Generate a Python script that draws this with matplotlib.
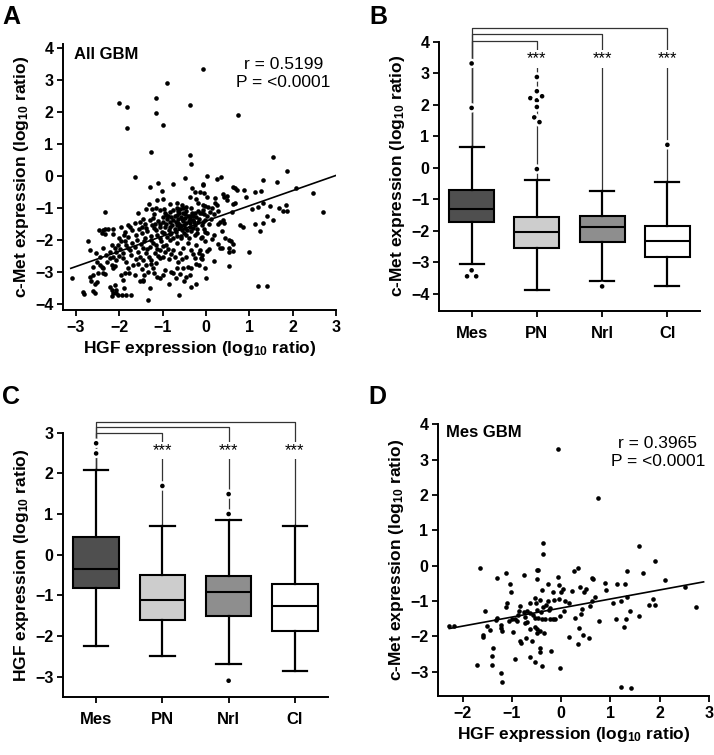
import numpy as np
import matplotlib
matplotlib.use('Agg')
import matplotlib.pyplot as plt
import matplotlib.patheffects as pe

plt.rcParams['font.family'] = ['Liberation Sans', 'DejaVu Sans']
plt.rcParams['font.weight'] = 'bold'
plt.rcParams['axes.labelweight'] = 'bold'
plt.rcParams['mathtext.fontset'] = 'custom'
plt.rcParams['mathtext.rm'] = 'Liberation Sans:bold'
plt.rcParams['mathtext.bf'] = 'Liberation Sans:bold'
plt.rcParams['mathtext.default'] = 'rm'

# ---- data: A (all GBM), HGF vs c-Met ----
all_pts = np.array([
    (-0.07, 3.32), (-0.91, 2.91), (-2.01, 2.28), (-1.83, 2.15), (-1.15, 2.43), (-1.15, 1.95), (-0.38, 2.22),
    (-1.83, 1.48), (-1.00, 1.60), (0.74, 1.91), (-1.26, 0.74), (-0.37, 0.65), (-0.35, 0.37),
    (-1.65, -0.03), (-1.30, -0.34), (-1.11, -0.21), (-1.01, -0.48), (-0.75, -0.25), (-0.49, -0.08), (-0.32, -0.37),
    (-0.26, -0.51), (-0.99, -0.73), (-1.12, -0.75), (-1.32, -0.89), (-1.38, -1.04), (-2.32, -1.12), (-1.57, -1.17),
    (-1.16, -1.01), (-1.07, -1.07), (-0.82, -0.88), (-0.66, -0.84), (-0.55, -0.91), (-0.45, -0.98), (-0.38, -0.65),
    (-0.24, -0.73), (-0.13, -0.49), (-0.08, -0.29), (-0.18, -0.86), (-0.13, -1.17), (-0.26, -1.17), (-1.53, -1.43),
    (-1.65, -1.48), (-1.45, -1.36), (-1.30, -1.38), (-1.22, -1.33), (-1.18, -1.50), (-0.99, -1.43), (-0.92, -1.22),
    (-0.84, -1.12), (-0.76, -1.07), (-0.68, -1.01), (-0.62, -1.17), (-0.53, -1.17), (-0.49, -1.33), (-0.38, -1.27),
    (-0.30, -1.38), (-0.26, -1.53), (-0.68, -1.53), (-0.61, -1.53), (-0.84, -1.59), (-1.07, -1.59), (-1.38, -1.64),
    (-2.26, -1.67), (-2.15, -1.67), (-1.76, -1.59), (-0.38, -1.59), (-0.18, -1.43),
    (-0.80, -1.30), (-0.72, -1.25), (-0.65, -1.35), (-0.58, -1.28), (-0.52, -1.42), (-0.45, -1.48), (-0.40, -1.40),
    (-0.70, -1.45), (-0.78, -1.55), (-0.62, -1.62), (-0.55, -1.70), (-0.48, -1.62), (-0.35, -1.72), (-0.90, -1.35),
    (-0.95, -1.60), (-0.86, -1.70), (-0.60, -1.05), (-0.50, -1.55), (-0.42, -1.25), (-0.33, -1.15), (-0.70, -1.75),
    (-1.02, -1.75), (-1.15, -1.70), (-1.25, -1.55), (-0.20, -1.65), (-0.15, -1.35), (-0.05, -1.20), (-0.25, -1.85),
    (-0.45, -1.85),
    (-0.95, -1.15), (-0.88, -1.25), (-0.82, -1.45), (-0.75, -1.38), (-0.68, -1.22), (-0.64, -1.48), (-0.57, -1.58),
    (-0.55, -1.35), (-0.48, -1.20), (-0.44, -1.70), (-0.38, -1.48), (-0.36, -1.35), (-0.30, -1.25), (-0.28, -1.45),
    (-0.72, -1.65), (-0.80, -1.78), (-0.92, -1.52), (-1.00, -1.28), (-1.05, -1.50), (-1.10, -1.40), (-0.58, -1.88),
    (-0.65, -1.10), (-0.52, -1.00), (-0.45, -1.10), (-0.35, -1.02), (-0.22, -1.30), (-0.18, -1.10), (-0.10, -1.55),
    (-0.05, -1.65), (0.08, -1.50), (0.12, -1.35), (0.18, -1.20), (0.10, -1.12), (-0.98, -1.05), (-1.20, -1.20),
    (-1.25, -1.05), (-1.40, -1.50), (-1.48, -1.60),
    (0.02, 0.00), (0.26, -0.11), (0.34, -0.05), (-0.08, -0.26), (-0.05, -0.53), (0.02, -0.65), (0.21, -0.68),
    (0.21, -0.84), (0.26, -0.91), (0.39, -0.57), (0.42, -0.65), (0.49, -0.63), (0.48, -0.75), (0.62, -0.34),
    (0.66, -0.37), (0.71, -0.44), (0.88, -0.44), (1.12, -0.49), (1.27, -0.46), (1.32, -0.13), (1.65, -0.18),
    (2.08, -0.39), (2.48, -0.55), (2.71, -1.12), (1.55, 0.60), (1.88, 0.16), (0.63, -0.88), (0.67, -0.86),
    (-0.08, -0.91), (-0.02, -0.93), (0.05, -0.98), (0.15, -1.01), (0.28, -1.09), (-0.06, -1.07), (-0.10, -1.17),
    (0.02, -1.25), (-0.02, -1.38), (-0.08, -1.43), (0.32, -1.43), (0.39, -1.38), (0.42, -1.48), (0.28, -1.50),
    (0.79, -1.53), (0.85, -1.61), (1.13, -1.50), (1.31, -1.46), (1.40, -1.25), (1.55, -1.38), (1.69, -1.01),
    (1.78, -1.09), (1.88, -1.09), (1.85, -0.91), (1.48, -0.94), (1.31, -0.86), (1.21, -0.98), (1.06, -1.04),
    (0.92, -0.65), (0.59, -1.12),
    (-0.02, -1.74), (0.02, -1.79), (-0.10, -1.90), (0.15, -1.97), (0.19, -1.85), (0.36, -1.72), (-0.02, -2.03),
    (-0.14, -2.31), (-0.10, -2.47), (-0.10, -2.61), (0.03, -2.35), (0.08, -2.29), (0.19, -2.66), (0.28, -2.14),
    (0.32, -2.24), (0.36, -2.26), (0.44, -1.93), (0.52, -2.00), (0.57, -2.03), (0.62, -2.14), (0.52, -2.26),
    (0.52, -2.37), (0.62, -2.35), (0.54, -2.83), (1.00, -2.39), (-0.02, -2.87), (0.00, -3.20), (1.25, -1.72),
    (1.21, -3.44), (1.40, -3.44),
    (-2.41, -1.79), (-2.32, -1.82), (-2.15, -1.82), (-2.34, -1.66), (-2.72, -2.02), (-2.67, -2.31), (-3.09, -3.18),
    (-2.84, -3.62), (-2.82, -3.69), (-2.57, -3.67), (-2.61, -3.60), (-2.65, -3.30), (-2.55, -3.39), (-2.49, -3.02),
    (-2.61, -3.10), (-2.45, -2.78), (-2.38, -2.89), (-2.32, -3.07), (-2.16, -2.78), (-2.15, -2.89), (-2.11, -2.83),
    (-2.22, -3.46), (-2.16, -3.56), (-2.15, -3.67), (-2.18, -3.74), (-2.07, -3.67), (-2.03, -3.72), (-1.93, -3.72),
    (-1.84, -3.72), (-1.72, -3.72), (-1.92, -3.25), (-1.95, -3.09), (-1.88, -3.04), (-1.78, -3.04), (-1.80, -2.89),
    (-1.69, -2.78), (-1.57, -2.76), (-1.65, -3.09), (-1.53, -3.30), (-1.45, -3.25), (-1.42, -3.09), (-1.34, -3.01),
    (-1.38, -2.78), (-1.28, -2.76), (-1.22, -2.89), (-1.15, -2.73), (-1.07, -2.57), (-0.99, -2.52), (-0.95, -2.94),
    (-0.99, -3.09), (-1.07, -3.20), (-1.30, -3.51), (-1.34, -3.87), (-0.85, -3.39), (-0.80, -2.99), (-0.68, -2.89),
    (-0.65, -2.70), (-0.61, -3.07), (-0.53, -2.89), (-0.42, -2.84), (-0.34, -2.89), (-0.38, -3.09), (-0.22, -2.76),
    (-0.15, -2.78), (-0.62, -3.72), (-0.34, -3.46), (-0.22, -3.39),
    (-2.18, -2.16), (-2.11, -2.26), (-2.07, -2.37), (-1.99, -2.28), (-1.92, -2.42), (-1.84, -2.16), (-1.76, -2.31),
    (-1.72, -2.47), (-1.65, -2.21), (-1.57, -2.37), (-1.53, -2.52), (-1.45, -2.26), (-1.42, -2.05), (-1.38, -2.42),
    (-1.30, -2.21), (-1.26, -2.00), (-1.18, -2.42), (-1.15, -2.16), (-1.07, -2.31), (-1.03, -2.05), (-0.95, -2.37),
    (-0.92, -2.16), (-0.84, -2.00), (-0.76, -2.31), (-0.72, -2.52), (-0.68, -2.11), (-0.61, -2.42), (-0.53, -2.26),
    (-0.45, -2.52), (-0.42, -2.11), (-0.34, -2.31), (-0.26, -2.57), (-0.22, -2.16), (-0.15, -2.42), (-0.11, -2.57),
    (-1.45, -2.63), (-1.26, -2.63), (-1.92, -2.57), (-2.07, -2.63), (-2.22, -2.57), (-2.30, -2.47), (-2.45, -2.52),
    (-2.53, -2.42), (-2.38, -2.26),
    (-1.60, -2.00), (-1.50, -2.12), (-1.35, -2.30), (-1.22, -2.10), (-1.12, -2.30), (-1.00, -2.20), (-0.88, -2.30),
    (-0.80, -2.45), (-1.70, -2.10), (-1.80, -2.25), (-1.88, -2.05), (-2.02, -2.15), (-1.62, -2.60), (-1.32, -2.52),
    (-1.10, -2.50), (-0.85, -2.60), (-0.55, -2.60), (-0.30, -2.45), (-2.00, -2.50), (-1.85, -2.70), (-1.48, -2.90),
    (-1.20, -3.05), (-0.70, -3.20), (-0.50, -3.30),
    (-1.95, -1.60), (-1.88, -1.75), (-1.80, -1.90), (-1.70, -1.70), (-1.62, -1.85), (-1.55, -1.65), (-1.48, -1.80),
    (-1.40, -1.95), (-1.35, -1.72), (-1.28, -1.88), (-1.20, -1.62), (-1.12, -1.85), (-1.05, -1.95), (-0.98, -1.80),
    (-0.90, -1.90), (-0.82, -1.82), (-0.75, -1.95), (-0.66, -1.88), (-0.58, -1.95), (-0.50, -1.80), (-0.40, -1.95),
    (-0.30, -1.62), (-0.20, -1.78), (-0.12, -1.95),
    (-2.52, -2.68), (-2.61, -2.84), (-2.41, -2.84), (-2.68, -3.15), (-2.52, -3.33), (-2.28, -2.68), (-2.22, -2.37),
    (-2.14, -2.52), (-2.37, -3.04), (-2.10, -3.41), (-2.08, -3.56), (-1.89, -3.51), (-0.45, -3.15), (-0.76, -3.04),
    (-1.14, -3.15), (-1.45, -3.30), (-2.47, -1.69), (-2.37, -1.69), (-1.80, -1.55), (-1.90, -1.85), (-2.00, -1.95),
    (-1.95, -2.05),
])
all_hgf = all_pts[:, 0]
all_met = all_pts[:, 1]
fit_all = (0.474, -1.41)          # slope, intercept
fit_all_range = (-3.12, 3.04)

# ---- data: D (Mes GBM) ----
mes_pts = np.array([
    (-0.06, 3.30), (0.75, 1.90),
    (-0.37, 0.63), (-0.36, 0.34), (-1.65, -0.06), (1.57, 0.56), (1.90, 0.14), (-1.31, -0.36), (-1.13, -0.22),
    (-0.76, -0.27), (-0.50, -0.11), (-0.47, -0.11), (-0.50, -0.38), (-1.03, -0.51), (-1.02, -0.74), (-0.39, -0.69),
    (-0.27, -0.53), (-0.07, -0.32), (-0.05, -0.55), (-0.17, -0.74), (0.00, -0.74), (0.04, -0.67), (0.25, -0.16),
    (0.34, -0.08), (0.39, -0.60), (0.22, -0.72), (0.15, -1.05), (0.46, -0.74), (0.51, -0.67), (0.62, -0.36),
    (0.65, -0.39), (0.88, -0.49), (0.91, -0.70), (1.14, -0.51), (1.29, -0.51), (1.33, -0.16), (1.67, -0.20),
    (2.10, -0.41), (2.51, -0.60), (2.73, -1.17), (1.78, -1.12), (1.90, -1.12), (1.86, -0.95), (1.57, -1.42),
    (1.39, -1.29), (1.31, -1.50), (1.27, -1.74), (1.12, -1.52), (1.22, -1.00), (1.33, -0.90), (1.06, -1.05),
    (0.77, -1.56), (0.68, -0.90), (0.62, -1.00), (0.58, -1.13), (0.43, -1.24), (0.41, -1.38), (0.29, -1.47),
    (0.36, -1.76), (0.44, -1.97), (0.57, -2.06), (0.34, -2.23), (0.15, -2.02), (0.05, -1.29), (-0.03, -1.42),
    (-0.05, -0.95), (0.07, -1.00), (-0.15, -0.96), (-0.27, -1.00), (-0.30, -1.12), (-0.23, -1.21), (-0.25, -1.26),
    (-0.36, -1.18), (-0.42, -0.98), (-0.53, -0.93), (-0.52, -1.05), (-0.41, -1.31), (-0.47, -1.48), (-0.54, -1.47),
    (-0.50, -1.26), (-0.58, -1.40), (-0.63, -1.34), (-0.63, -1.07), (-0.69, -1.28), (-0.73, -1.45), (-0.69, -1.59),
    (-0.73, -1.61), (-0.76, -1.31), (-0.83, -1.15), (-0.85, -1.28), (-0.88, -1.40), (-0.93, -1.52), (-0.90, -1.57),
    (-1.00, -1.52), (-1.06, -1.57), (-1.10, -1.05), (-1.11, -1.18), (-1.32, -1.54), (-1.30, -1.49), (-1.54, -1.29),
    (-1.51, -1.71), (-1.44, -1.83), (-1.23, -1.76), (-1.22, -1.68), (-1.20, -1.86), (-1.59, -1.97), (-1.59, -2.03),
    (-0.98, -1.87), (-0.83, -2.14), (-0.82, -2.20), (-0.71, -2.04), (-0.64, -1.78), (-0.54, -1.73), (-0.50, -1.78),
    (-0.49, -1.90), (-0.42, -1.85), (-0.34, -1.92), (-0.60, -2.14), (-0.43, -2.32), (-0.42, -2.45), (-0.21, -2.42),
    (-0.38, -1.51), (-0.33, -1.51), (-0.22, -1.51), (-0.16, -1.51), (-0.12, -1.51), (-1.38, -2.34), (-1.41, -2.56),
    (-1.40, -2.80), (-1.70, -2.82), (-1.22, -3.05), (-1.21, -3.28), (-0.94, -2.65), (-0.64, -2.60), (-0.53, -2.72),
    (-0.39, -2.84), (-0.03, -2.89), (1.22, -3.43), (1.41, -3.45), (-2.27, -1.70), (-2.17, -1.71),
])
mes_hgf = mes_pts[:, 0]
mes_met = mes_pts[:, 1]
fit_mes = (0.256, -1.20)
fit_mes_range = (-2.27, 2.89)

# ---- data: B / C box plots ----
subtypes = ['Mes', 'PN', 'Nrl', 'Cl']
box_colors = ['#4f4f4f', '#cdcdcd', '#8e8e8e', '#ffffff']

met_lo = [-3.05, -3.87, -3.58, -3.74]
met_q1 = [-1.72, -2.55, -2.36, -2.83]
met_med = [-1.29, -2.04, -1.88, -2.33]
met_q3 = [-0.71, -1.56, -1.53, -1.85]
met_hi = [0.66, -0.40, -0.75, -0.45]
# outliers as (offset from box centre, value)
met_out = [
    [(0, 3.31), (0, 1.90), (0, -3.25), (-0.07, -3.44), (0.07, -3.44)],
    [(0, 2.88), (0, 2.43), (-0.10, 2.21), (0, 2.14), (0.08, 2.27), (0, 1.93), (-0.04, 1.60), (0.04, 1.45), (0, -0.04)],
    [(0, -3.76)],
    [(0, 0.73)],
]
met_brackets = [4.03, 4.25, 4.44]
met_star_y = 3.45

hgf_lo = [-2.25, -2.48, -2.68, -2.85]
hgf_q1 = [-0.82, -1.60, -1.50, -1.88]
hgf_med = [-0.36, -1.11, -0.93, -1.26]
hgf_q3 = [0.43, -0.50, -0.53, -0.73]
hgf_hi = [2.09, 0.70, 0.85, 0.70]
hgf_out = [
    [(0, 2.74), (0, 2.49)],
    [(0, 1.69)],
    [(0, 1.49), (0, 1.00), (0, -3.10)],
    [],
]
hgf_brackets = [2.99, 3.13, 3.27]
hgf_star_y = 2.56

fig = plt.figure(figsize=(7.14, 7.55), dpi=100)

TICK_FS = 11.5
LAB_FS = 12.5


def style_axes(ax):
    for s in ['top', 'right']:
        ax.spines[s].set_visible(False)
    for s in ['left', 'bottom']:
        ax.spines[s].set_linewidth(1.4)
    ax.tick_params(direction='out', length=4, width=1.3, labelsize=TICK_FS, pad=3)
    for lab in ax.get_xticklabels() + ax.get_yticklabels():
        lab.set_fontweight('bold')


def scatter_panel(ax, x, y, fit, frange, title, rtxt, title_xy, r_xy):
    ax.scatter(x, y, s=11, color='black', linewidths=0, zorder=3)
    xs = np.array(frange)
    ax.plot(xs, fit[0] * xs + fit[1], color='black', lw=1.2, zorder=2)
    ax.text(*title_xy, title, fontsize=12, fontweight='bold', ha='left', va='center')
    ax.text(*r_xy, rtxt, fontsize=12.5, fontweight='normal', ha='center', va='center',
            multialignment='center', linespacing=1.25)
    ax.set_ylabel('c-Met expression (log$_{10}$ ratio)', fontsize=LAB_FS, labelpad=3)
    ax.set_xlabel('HGF expression (log$_{10}$ ratio)', fontsize=LAB_FS, labelpad=3)
    style_axes(ax)


def box_panel(ax, lo, q1, med, q3, hi, outs, brackets, star_y, ylabel):
    stats = [dict(whislo=lo[i], q1=q1[i], med=med[i], q3=q3[i], whishi=hi[i], fliers=[], label=subtypes[i])
             for i in range(len(subtypes))]
    pos = np.arange(1, len(subtypes) + 1)
    # significance brackets Mes vs others (drawn first, behind everything)
    for k, lvl in enumerate(brackets):
        j = k + 1
        ax.plot([pos[0], pos[0], pos[j], pos[j]], [hi[0], lvl, lvl, hi[j]],
                color='#333333', lw=0.9, clip_on=False, zorder=1)
        ax.text(pos[j], star_y, '***', ha='center', va='center', fontsize=12, fontweight='normal',
                bbox=dict(facecolor='white', edgecolor='none', pad=1.0), zorder=3)
    b = ax.bxp(stats, positions=pos, widths=0.69, capwidths=0.37, patch_artist=True, showfliers=False,
               boxprops=dict(linewidth=1.5, edgecolor='black'),
               whiskerprops=dict(linewidth=1.6, color='black'),
               capprops=dict(linewidth=1.6, color='black'),
               medianprops=dict(linewidth=1.5, color='black'))
    for patch, c in zip(b['boxes'], box_colors):
        patch.set_facecolor(c)
    for i, pts in enumerate(outs):
        for dx, v in pts:
            ax.plot(pos[i] + dx, v, 'o', ms=3.3, color='black', mew=0, zorder=4, clip_on=False,
                    path_effects=[pe.withStroke(linewidth=3.5, foreground='white')])
    ax.set_xlim(0.5, 4.5)
    ax.set_xticks(pos)
    ax.set_xticklabels(subtypes)
    ax.set_ylabel(ylabel, fontsize=LAB_FS, labelpad=3)
    style_axes(ax)
    ax.tick_params(axis='x', labelsize=12, pad=7)


# Panel A
axA = fig.add_axes([63 / 714, 1 - 310 / 755, 273 / 714, 265.5 / 755])
scatter_panel(axA, all_hgf, all_met, fit_all, fit_all_range, 'All GBM',
              'r = 0.5199\nP = <0.0001', (-3.05, 3.8), (1.78, 3.2))
axA.set_xlim(-3.3, 3.0)
axA.set_ylim(-4.19, 4.1)
axA.set_xticks(range(-3, 4))
axA.set_yticks(range(-4, 5))

# Panel B
axB = fig.add_axes([439 / 714, 1 - 311 / 755, 261 / 714, 269.3 / 755])
box_panel(axB, met_lo, met_q1, met_med, met_q3, met_hi, met_out, met_brackets, met_star_y,
          'c-Met expression (log$_{10}$ ratio)')
axB.set_ylim(-4.54, 4.0)
axB.set_yticks(range(-4, 5))

# Panel C
axC = fig.add_axes([63 / 714, 1 - 697 / 755, 265 / 714, 264.3 / 755])
box_panel(axC, hgf_lo, hgf_q1, hgf_med, hgf_q3, hgf_hi, hgf_out, hgf_brackets, hgf_star_y,
          'HGF expression (log$_{10}$ ratio)')
axC.set_ylim(-3.5, 3.0)
axC.set_yticks(range(-3, 4))

# Panel D
axD = fig.add_axes([438 / 714, 1 - 696 / 755, 271 / 714, 271.7 / 755])
scatter_panel(axD, mes_hgf, mes_met, fit_mes, fit_mes_range, 'Mes GBM',
              'r = 0.3965\nP = <0.0001', (-2.33, 3.77), (1.96, 3.2))
axD.set_xlim(-2.5, 3.0)
axD.set_ylim(-3.69, 4.0)
axD.set_xticks(range(-2, 4))
axD.set_yticks(range(-3, 5))

for letter, (px, py) in zip('ABCD', [(11, 14), (378, 14), (11, 395), (377, 395)]):
    fig.text(px / 714, 1 - py / 755, letter, fontsize=18, fontweight='bold', ha='center', va='center_baseline')

fig.savefig('out.png', dpi=100)
